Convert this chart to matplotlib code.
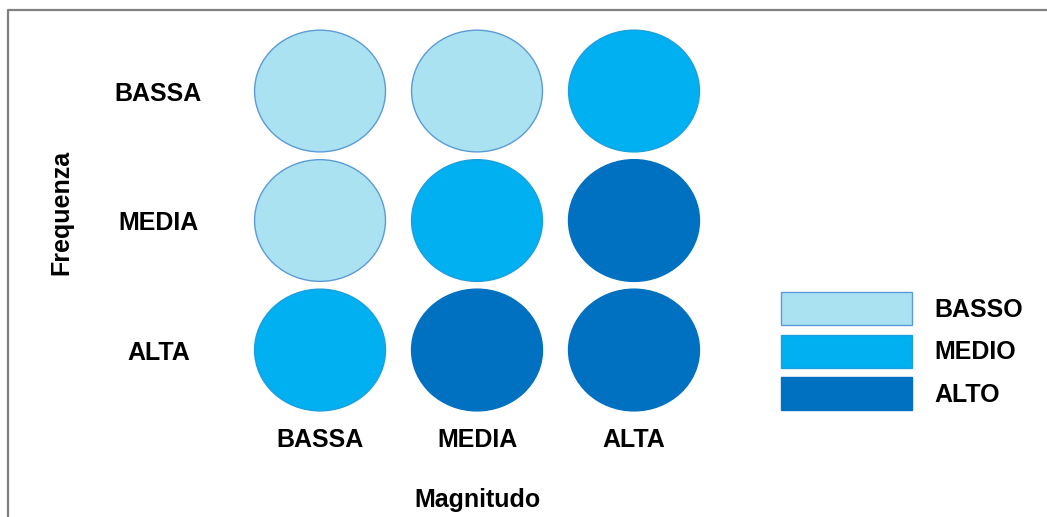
import matplotlib.pyplot as plt
from matplotlib.patches import Ellipse, Patch
from matplotlib.lines import Line2D

plt.rcParams['font.family'] = ['Liberation Sans', 'DejaVu Sans']
plt.rcParams['font.weight'] = 'bold'

# risk grid: rows = Frequenza, cols = Magnitudo
row_labels = ["BASSA", "MEDIA", "ALTA"]
col_labels = ["BASSA", "MEDIA", "ALTA"]
risk = [[0, 0, 1],
        [0, 1, 2],
        [1, 2, 2]]
level_names = ["BASSO", "MEDIO", "ALTO"]
level_colors = ["#ABE2F1", "#00B0F0", "#0070C0"]
level_edges = ["#5B9BD5", "#1A9FE0", "#0070C0"]

FS = 18

fig = plt.figure(figsize=(10.47, 5.17), dpi=100)
ax = fig.add_axes([0.2157, 0.1727, 0.4798, 0.8015])
ax.set_xlim(-0.6, 2.6)
ax.set_ylim(2.6, -0.6)

for i, row in enumerate(risk):
    for j, lev in enumerate(row):
        ax.add_patch(Ellipse((j, i), 0.834, 0.94, facecolor=level_colors[lev],
                             edgecolor=level_edges[lev], linewidth=1))

ax.set_xticks(range(len(col_labels)))
ax.set_xticklabels(col_labels, fontsize=FS, fontweight='bold')
ax.set_yticks(range(len(row_labels)))
ax.set_yticklabels(row_labels, fontsize=FS, fontweight='bold')
for lab in ax.get_yticklabels():
    lab.set_ha('center')
ax.tick_params(axis='x', length=0, pad=0)
ax.tick_params(axis='y', length=0, pad=48.5)
for s in ax.spines.values():
    s.set_visible(False)

ax.set_xlabel("Magnitudo", fontsize=FS, fontweight='bold')
ax.xaxis.set_label_coords(0.5, -0.145)
ax.set_ylabel("Frequenza", fontsize=FS, fontweight='bold')
ax.yaxis.set_label_coords(-0.303, 0.52)

handles = [Patch(facecolor=c, edgecolor=e, linewidth=1)
           for c, e in zip(level_colors, level_edges)]
fig.legend(handles, level_names, loc='upper left',
           bbox_to_anchor=(781 / 1047, 1 - 292 / 517), frameon=False,
           fontsize=FS, handlelength=5.24, handleheight=1.654,
           labelspacing=0.38, handletextpad=0.88, borderpad=0, borderaxespad=0)

# grey frame (top and left edges)
fig.add_artist(Line2D([8 / 1047, 8 / 1047, 1.0], [0.0, 1 - 10 / 517, 1 - 10 / 517],
                      color="#808080", linewidth=1.6, transform=fig.transFigure))

fig.savefig("out.png", dpi=100)
